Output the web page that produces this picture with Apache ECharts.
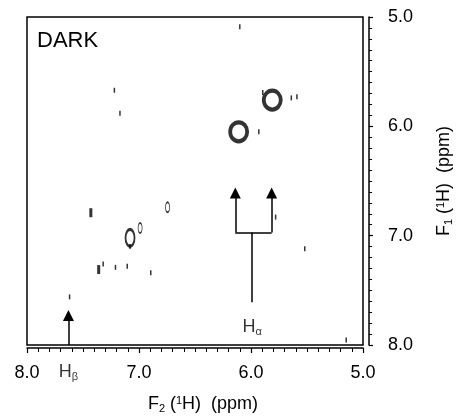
<!DOCTYPE html>
<html><head><meta charset="utf-8">
<script src="https://cdn.jsdelivr.net/npm/echarts@6/dist/echarts.min.js"></script>
<style>html,body{margin:0;padding:0;background:#fff}#c{width:462px;height:419px}</style>
</head><body><div id="c"></div>
<script>
// ---- data (ppm) ----
const axisMin = 5.0, axisMax = 8.0, axisStep = 1.0;
const strongPeaks = [[5.81, 5.76], [6.11, 6.05]];           // F2, F1
const mediumPeaks = [[7.08, 7.02]];
const smallRings = [[6.99, 6.93], [6.745, 6.74]];
const boldDashes = [[7.36, 7.31], [7.43, 6.79]];
const weakDashes = [[6.10, 5.09], [7.22, 5.67], [7.17, 5.88], [7.32, 7.26], [7.21, 7.29],
  [7.105, 7.28], [6.895, 7.34], [7.62, 7.56], [5.93, 6.05], [5.52, 7.12], [5.15, 7.955],
  [5.895, 5.69], [5.64, 5.74], [5.59, 5.73], [5.78, 6.83], [7.08, 7.10]];
const hAlphaArmsX = [6.14, 5.816];
const hAlphaStemX = 5.99;
const hAlphaBarY = 6.97;
const hAlphaArrowEndY = 6.61;
const hAlphaStemBottomY = 7.61;
const hAlphaLabelPos = [5.99, 7.84];
const hBetaX = 7.63;
const hBetaArrowEndY = 7.73;
const chartTitle = 'DARK';

const FONT = 'Liberation Sans';
const rich = {
  n: { fontSize: 18, fontFamily: FONT, color: '#000' },
  sub: { fontSize: 11, fontFamily: FONT, color: '#000', padding: [8, 0, 0, 0] },
  sup: { fontSize: 11, fontFamily: FONT, color: '#000', padding: [0, 0, 7, 0] }
};

const arrowLines = [
  { coords: [[hAlphaArmsX[0], hAlphaBarY], [hAlphaArmsX[0], hAlphaArrowEndY]] },
  { coords: [[hAlphaArmsX[1], hAlphaBarY], [hAlphaArmsX[1], hAlphaArrowEndY]] },
  { coords: [[hBetaX, axisMax], [hBetaX, hBetaArrowEndY]] }
];
const plainLines = [
  { coords: [[hAlphaArmsX[0], hAlphaBarY], [hAlphaArmsX[1], hAlphaBarY]] },
  { coords: [[hAlphaStemX, hAlphaBarY], [hAlphaStemX, hAlphaStemBottomY]] }
];

const chart = echarts.init(document.getElementById('c'), null, { renderer: 'canvas' });
chart.setOption({
  animation: false,
  backgroundColor: '#fff',
  title: { text: chartTitle, left: 32, top: 25, textStyle: { fontFamily: FONT, fontSize: 22, fontWeight: 'normal', color: '#000' } },
  grid: { left: 27, right: 93, top: 17, bottom: 74, show: true, borderColor: '#000', borderWidth: 1.5, backgroundColor: 'transparent' },
  xAxis: {
    type: 'value', min: axisMin, max: axisMax, interval: axisStep, inverse: true,
    position: 'bottom', offset: 3,
    name: '{n|F}{sub|2}{n| (}{sup|1}{n|H)  (ppm)}', nameLocation: 'middle', nameGap: 47,
    nameTextStyle: { rich: rich, padding: [0, 0, 0, 16] },
    axisLine: { show: true, lineStyle: { color: '#000', width: 1.5 } },
    axisTick: { show: true, length: 5, lineStyle: { color: '#000', width: 1.2 } },
    minorTick: { show: true, splitNumber: 10, length: 4, lineStyle: { color: '#000', width: 1 } },
    splitLine: { show: false },
    axisLabel: { margin: 16, fontFamily: FONT, fontSize: 18, color: '#000', formatter: v => v.toFixed(1) }
  },
  yAxis: {
    type: 'value', min: axisMin, max: axisMax, interval: axisStep, inverse: true,
    position: 'right', offset: 6,
    name: '{n|F}{sub|1}{n| (}{sup|1}{n|H)  (ppm)}', nameLocation: 'middle', nameGap: 66, nameRotate: 90,
    nameTextStyle: { rich: rich },
    axisLine: { show: true, lineStyle: { color: '#000', width: 1.5 } },
    axisTick: { show: true, length: 4, lineStyle: { color: '#000', width: 1.2 } },
    minorTick: { show: true, splitNumber: 10, length: 3, lineStyle: { color: '#000', width: 1 } },
    splitLine: { show: false },
    axisLabel: { margin: 19, fontFamily: FONT, fontSize: 18, color: '#000', formatter: v => v.toFixed(1) }
  },
  series: [
    { type: 'scatter', data: strongPeaks, symbol: 'circle', symbolSize: [17, 19],
      itemStyle: { color: '#fff', borderColor: '#000', borderWidth: 4 }, z: 5 },
    { type: 'scatter', data: mediumPeaks, symbol: 'circle', symbolSize: [9, 17],
      itemStyle: { color: '#fff', borderColor: '#000', borderWidth: 2.4 }, z: 5 },
    { type: 'scatter', data: smallRings, symbol: 'circle', symbolSize: [4, 10],
      itemStyle: { color: '#fff', borderColor: '#000', borderWidth: 1.2 }, z: 5 },
    { type: 'scatter', data: boldDashes, symbol: 'rect', symbolSize: [3, 9],
      itemStyle: { color: '#000' }, z: 5 },
    { type: 'scatter', data: weakDashes, symbol: 'rect', symbolSize: [1.5, 5],
      itemStyle: { color: '#000' }, z: 5 },
    { type: 'lines', coordinateSystem: 'cartesian2d', data: arrowLines,
      symbol: ['none', 'triangle'], symbolSize: [10, 11],
      lineStyle: { color: '#000', width: 1.5, opacity: 1 }, z: 6 },
    { type: 'lines', coordinateSystem: 'cartesian2d', data: plainLines, symbol: ['none', 'none'],
      lineStyle: { color: '#000', width: 1.5, opacity: 1 }, z: 6 },
    { type: 'scatter', data: [hAlphaLabelPos], symbolSize: 0, clip: false, silent: true,
      label: { show: true, position: 'inside', formatter: '{n|H}{sub|α}', rich: rich } },
    { type: 'scatter', data: [[hBetaX, axisMax]], symbolSize: 0, clip: false, silent: true,
      label: { show: true, position: 'bottom', distance: 18, formatter: '{n|H}{sub|β}', rich: rich } }
  ]
});
</script></body></html>
